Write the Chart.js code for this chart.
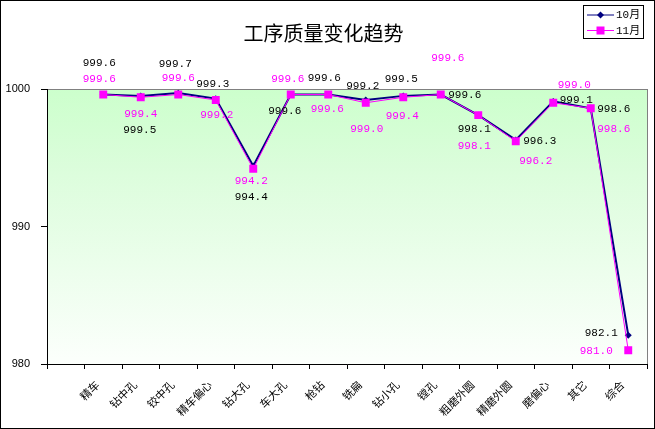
<!DOCTYPE html>
<html>
<head>
<meta charset="utf-8">
<script src="https://cdn.jsdelivr.net/npm/chart.js@4.4.1/dist/chart.umd.min.js"></script>
<style>
  html, body { margin: 0; padding: 0; background: #fff; }
  canvas { display: block; }
</style>
</head>
<body>
<canvas id="myChart" width="655" height="429"></canvas>
<script>
// categories (first slot is an empty category, as in the original sheet)
const categories = ['', '精车', '钻中孔', '铰中孔', '精车偏心', '钻大孔', '车大孔', '枪钻', '铣扁', '钻小孔', '镗孔', '粗磨外圆', '精磨外圆', '磨偏心', '其它', '综合'];
const octValues = [null, 999.6, 999.5, 999.7, 999.3, 994.4, 999.6, 999.6, 999.2, 999.5, 999.6, 998.1, 996.3, 999.1, 998.6, 982.1];
const novValues = [null, 999.6, 999.4, 999.6, 999.2, 994.2, 999.6, 999.6, 999.0, 999.4, 999.6, 998.1, 996.2, 999.0, 998.6, 981.0];
const yTicks = [980, 990, 1000];

// where each value label sits relative to its point (px)
const octLabelOffset = [null, [-4, -31], [-1, 34], [-3, -29], [-3, -15], [-2, 31], [-6, 17], [-4, -16], [-3, -14], [-2, -17], [24, 1], [-4, 14], [24, 1], [23, -1], [23, 1], [-27, -2]];
const novLabelOffset = [null, [-4, -15], [0, 17], [0, -16], [1, 15], [-2, 12], [-3, -15], [-1, 15], [1, 26], [-1, 19], [7, -36], [-4, 31], [20, 20], [21, -18], [23, 21], [-32, 1]];

const canvas = document.getElementById('myChart');
const ctx = canvas.getContext('2d');

// background of the plot area, frame and legend
const framePlugin = {
  id: 'frame',
  beforeDraw(chart) {
    const c = chart.ctx;
    const a = chart.chartArea;
    c.save();
    c.fillStyle = '#ffffff';
    c.fillRect(0, 0, chart.width, chart.height);
    const g = c.createLinearGradient(0, a.top, 0, a.bottom);
    g.addColorStop(0, '#ccffcc');
    g.addColorStop(0.3, '#dcfddc');
    g.addColorStop(1, '#fcfffc');
    c.fillStyle = g;
    c.fillRect(a.left, a.top, a.right - a.left, a.bottom - a.top);
    c.strokeStyle = '#808080';
    c.lineWidth = 1;
    c.strokeRect(a.left + 0.5, a.top + 0.5, a.right - a.left, a.bottom - a.top);
    c.restore();
  },
  afterDraw(chart) {
    const c = chart.ctx;
    c.save();
    c.strokeStyle = '#000';
    c.lineWidth = 1;
    c.strokeRect(0.5, 0.5, chart.width - 1, chart.height - 1);

    // legend box
    c.fillStyle = '#fff';
    c.fillRect(583, 5, 60, 33);
    c.strokeRect(583.5, 5.5, 60, 33);
    c.font = '11px "Liberation Mono", "Noto Sans CJK SC"';
    c.textBaseline = 'middle';
    c.textAlign = 'left';
    chart.data.datasets.forEach(function(ds, i) {
      const y = 15 + i * 15.5;
      c.strokeStyle = ds.borderColor;
      c.lineWidth = 1;
      c.beginPath();
      c.moveTo(587, y);
      c.lineTo(614, y);
      c.stroke();
      c.fillStyle = ds.borderColor;
      if (ds.pointStyle === 'rect') {
        c.fillRect(596.5, y - 4, 8, 8);
      } else {
        c.beginPath();
        c.moveTo(600.5, y - 3.5);
        c.lineTo(604, y);
        c.lineTo(600.5, y + 3.5);
        c.lineTo(597, y);
        c.closePath();
        c.fill();
      }
      c.fillStyle = '#000';
      c.fillText(ds.label, 616, y + 0.5);
    });
    c.restore();
  }
};

// value labels next to the points
const valueLabels = {
  id: 'valueLabels',
  afterDatasetsDraw(chart) {
    const c = chart.ctx;
    c.save();
    c.font = '11px "Liberation Mono"';
    c.textAlign = 'center';
    c.textBaseline = 'middle';
    chart.data.datasets.forEach(function(ds, di) {
      const meta = chart.getDatasetMeta(di);
      const offs = di === 0 ? octLabelOffset : novLabelOffset;
      c.fillStyle = di === 0 ? '#000000' : '#ff00ff';
      meta.data.forEach(function(pt, i) {
        const v = ds.data[i];
        if (v === null || !offs[i]) return;
        c.fillText(v.toFixed(1), pt.x + offs[i][0], pt.y + offs[i][1]);
      });
    });
    c.restore();
  }
};

var chartData = {
  labels: categories,
  datasets: [{
    label: '10月',
    data: octValues,
    borderColor: '#000080',
    backgroundColor: '#000080',
    borderWidth: 2,
    pointStyle: 'rectRot',
    pointRadius: 3.5,
    pointBorderWidth: 0,
    tension: 0,
    order: 1
  }, {
    label: '11月',
    data: novValues,
    borderColor: '#ff00ff',
    backgroundColor: '#ff00ff',
    borderWidth: 1,
    pointStyle: 'rect',
    pointRadius: 5.6,
    pointBorderWidth: 0,
    tension: 0,
    order: 0
  }]
};

var chartOptions = {
  responsive: false,
  animation: false,
  layout: { padding: { left: 0, right: 8, top: 0, bottom: 0 } },
  plugins: {
    legend: { display: false },
    tooltip: { enabled: false },
    title: {
      display: true,
      text: '工序质量变化趋势',
      color: '#000',
      font: { family: '"Noto Sans CJK SC"', size: 20, weight: 'normal', lineHeight: 1.2 },
      padding: { top: 21, bottom: 44 }
    }
  },
  scales: {
    x: {
      offset: true,
      grid: { offset: true, drawOnChartArea: false, drawTicks: true, tickLength: 5, color: '#000' },
      border: { color: '#000', width: 1 },
      ticks: {
        color: '#000',
        font: { family: '"Noto Sans CJK SC"', size: 11 },
        minRotation: 45,
        maxRotation: 45,
        autoSkip: false,
        padding: 9,
        labelOffset: -6
      },
      afterFit(scale) { scale.height = 65; }
    },
    y: {
      min: 980,
      max: 1000,
      afterBuildTicks(scale) { scale.ticks = yTicks.map(v => ({ value: v })); },
      grid: { drawOnChartArea: false, drawTicks: true, tickLength: 6, color: '#000' },
      border: { color: '#000', width: 1 },
      ticks: {
        color: '#000',
        font: { family: '"Liberation Sans"', size: 11 },
        padding: 11,
        callback: function(value) { return String(value); }
      },
      afterFit(scale) { scale.width = 47; }
    }
  }
};

var myChart = new Chart(ctx, {
  type: 'line',
  data: chartData,
  options: chartOptions,
  plugins: [framePlugin, valueLabels]
});
</script>
</body>
</html>
